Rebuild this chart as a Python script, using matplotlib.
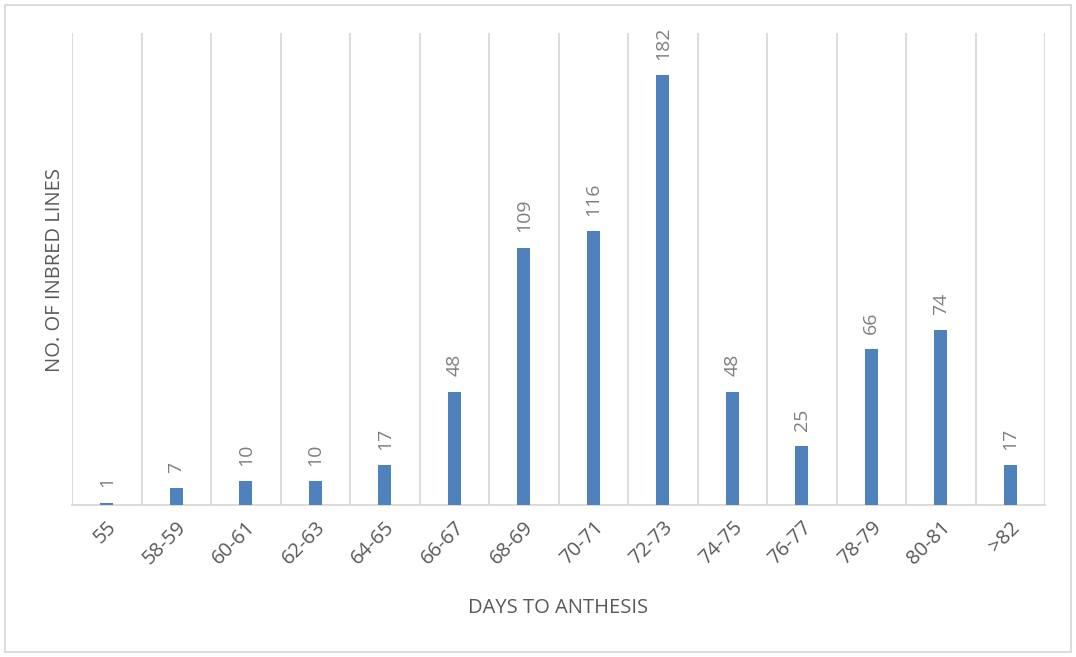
import matplotlib
matplotlib.use("Agg")
import matplotlib.pyplot as plt
from matplotlib.patches import Rectangle

categories = ["55", "58-59", "60-61", "62-63", "64-65", "66-67", "68-69", "70-71",
              "72-73", "74-75", "76-77", "78-79", "80-81", ">82"]
values = [1, 7, 10, 10, 17, 48, 109, 116, 182, 48, 25, 66, 74, 17]

plt.rcParams['font.family'] = ['Open Sans', 'DejaVu Sans']

fig = plt.figure(figsize=(10.76, 6.57), dpi=100)
W, H = 1076, 657
ax = fig.add_axes([72 / W, 1 - 505 / H, (1045 - 72) / W, (505 - 33) / H])

x = list(range(len(categories)))
bars = ax.bar(x, values, width=0.19, color="#4f81bd", zorder=3)

ax.set_xlim(-0.5, len(categories) - 0.5)
ax.set_ylim(0, 200)

# vertical gridlines at category boundaries
for b in range(len(categories) + 1):
    ax.axvline(b - 0.5, color="#d9d9d9", lw=1.3, zorder=1)

for xi, v in zip(x, values):
    ax.annotate(str(v), (xi, v), xytext=(0, 11), textcoords="offset points",
                rotation=90, ha="center", va="bottom", fontsize=14, color="#7f7f7f")

ax.set_xticks(x)
ax.set_xticklabels(categories, rotation=45, ha="right", rotation_mode="anchor",
                   fontsize=14.5, color="#595959")
ax.tick_params(axis="x", length=0, pad=9)
ax.set_yticks([])
for s in ["top", "right", "left"]:
    ax.spines[s].set_visible(False)
ax.spines["bottom"].set_color("#d9d9d9")
ax.spines["bottom"].set_linewidth(1.3)

fig.text(558 / W, 1 - 608 / H, "DAYS TO ANTHESIS", ha="center", va="center",
         fontsize=14.5, color="#595959")
fig.text(55 / W, 1 - 270 / H, "NO. OF INBRED LINES", ha="center", va="center",
         rotation=90, fontsize=14.5, color="#595959")

fig.patches.append(Rectangle((5 / W, 5 / H), 1066 / W, 647 / H, transform=fig.transFigure,
                             fill=False, edgecolor="#d9d9d9", lw=1.3))

fig.savefig("out.png", dpi=100, facecolor="white")
